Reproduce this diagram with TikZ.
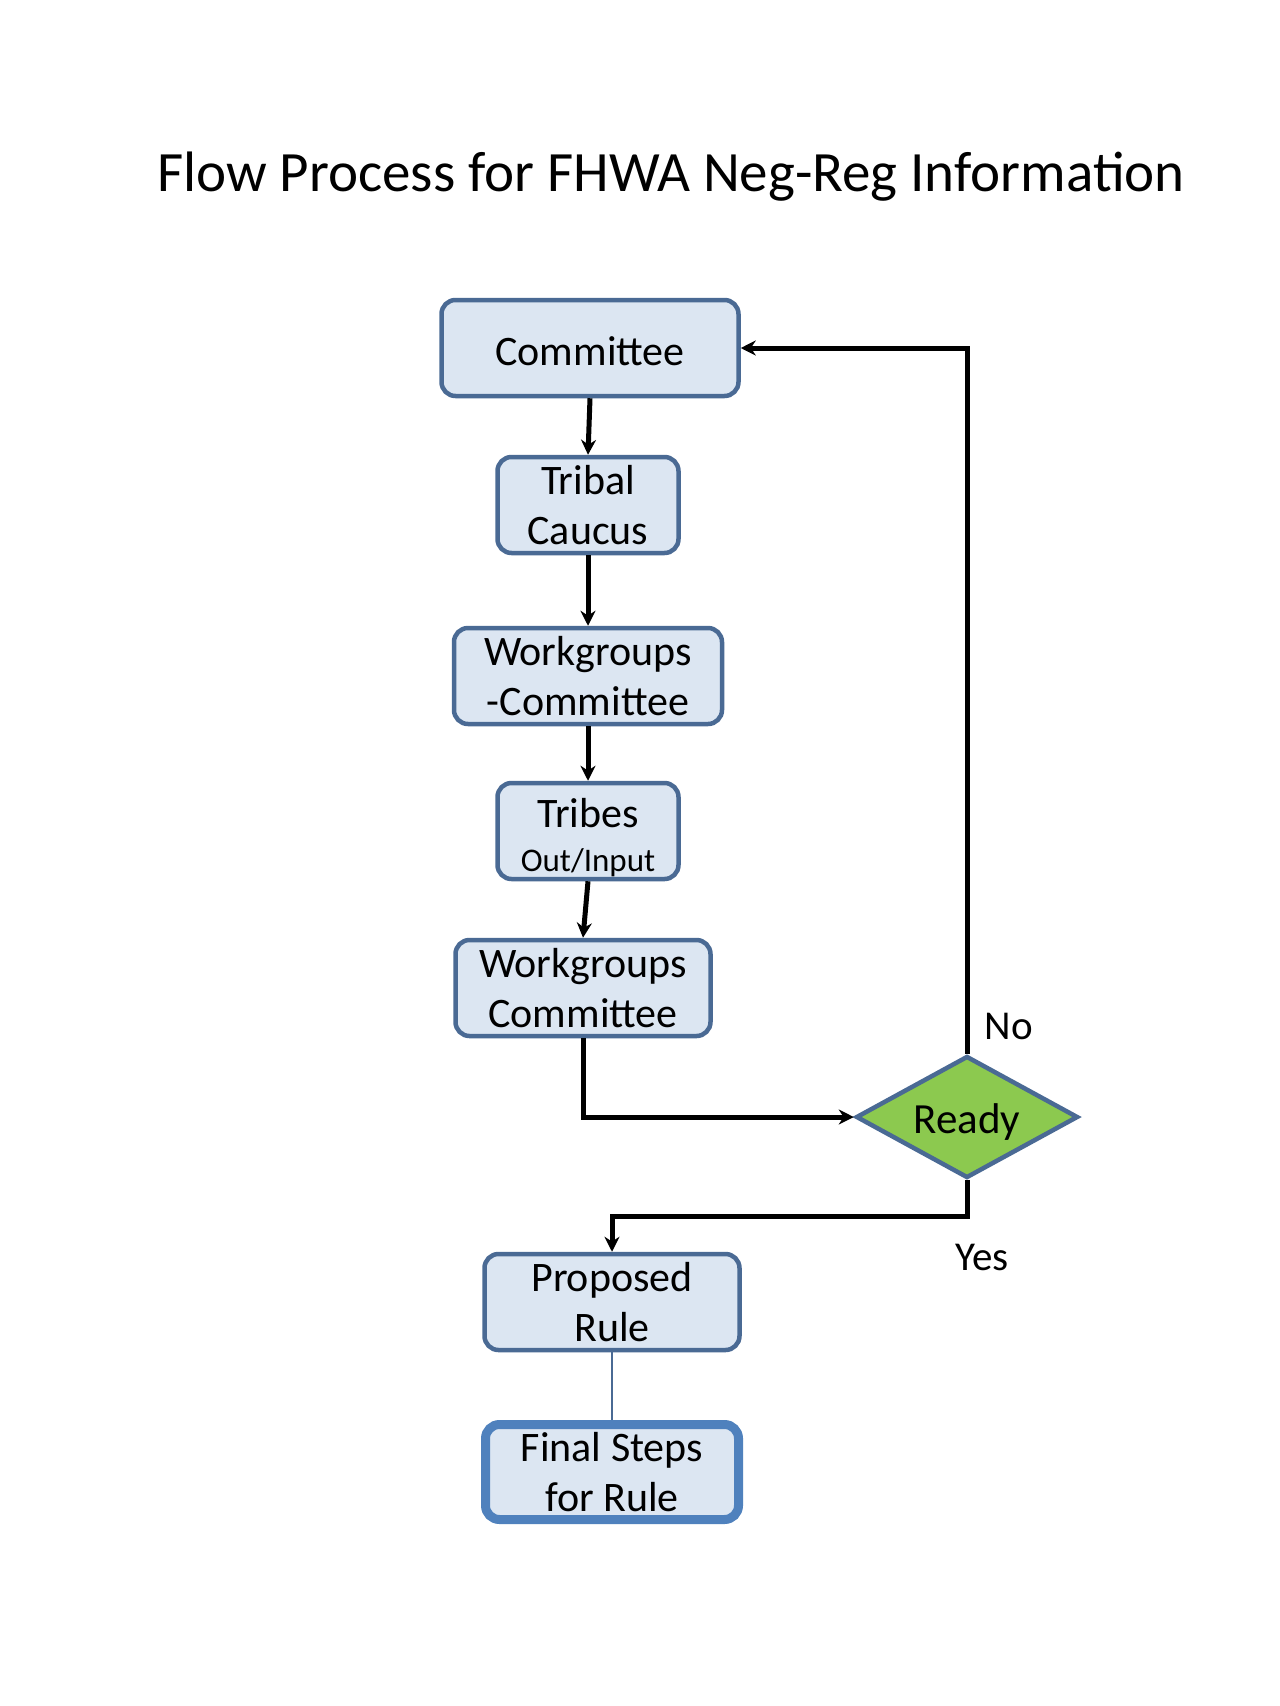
\documentclass[tikz,border=0pt]{standalone}
\usepackage{fontspec}
\setmainfont{Carlito}
\usetikzlibrary{shapes.geometric,arrows.meta}
\definecolor{boxfill}{HTML}{DCE6F2}
\definecolor{boxline}{HTML}{4A6A94}
\definecolor{finline}{HTML}{4F81BD}
\definecolor{readyfill}{HTML}{8CC94F}
\newcommand{\lowerby}[2]{\raisebox{-#1}[\height][\depth]{#2}}
\begin{document}
\begin{tikzpicture}[x=1pt,y=-1pt,
 proc/.style={draw=boxline, line width=4.5pt, fill=boxfill, rounded corners=14pt, minimum height=96pt, inner sep=0pt, align=center, font=\fontsize{42}{50}\selectfont},
 conn/.style={line width=5pt, -{Stealth[length=15pt,width=15pt]}},
 lbl/.style={font=\fontsize{41}{48}\selectfont}
]
\useasboundingbox[fill=white] (0,0) rectangle (1280,1706);
\node[font=\fontsize{57}{66}\selectfont] (title) at (671,177) {Flow Process for FHWA Neg-Reg Information};
\node[proc, minimum width=297pt] (committee) at (590,348) {\lowerby{3pt}{Committee}};
\node[proc, minimum width=181pt] (tribal) at (588,505) {Tribal\\Caucus};
\node[proc, minimum width=268pt] (wc1) at (588,676) {Workgroups\\-Committee};
\node[proc, minimum width=181pt] (tribes) at (588,831) {\lowerby{7pt}{Tribes}\\[-6pt]\lowerby{7pt}{\fontsize{33}{38}\selectfont Out/Input}};
\node[diamond, draw=boxline, line width=4.5pt, fill=readyfill, minimum width=222pt, minimum height=122pt, aspect=1.8, inner sep=0pt, font=\fontsize{43}{50}\selectfont] (ready) at (967,1117) {\lowerby{5pt}{Ready}};
\node[proc, minimum width=255pt] (wc2) at (583,988) {Workgroups\\Committee};
\node[proc, minimum width=255pt] (proposed) at (612,1302) {Proposed\\Rule};
\node[proc, draw=finline, line width=9pt, minimum width=253pt, minimum height=95pt] (final) at (612,1472) {Final Steps\\for Rule};
\node[lbl] (no) at (1009,1026) {No};
\node[lbl] (yes) at (982,1257) {Yes};
\draw[conn] (committee.south) -- (tribal.north);
\draw[conn] (tribal.south) -- (wc1.north);
\draw[conn] (wc1.south) -- (tribes.north);
\draw[conn] (tribes.south) -- (wc2.north);
\draw[conn] (wc2.south) |- (ready.west);
\draw[conn] (ready.north) |- (committee.east);
\draw[conn] (ready.south) -- ++(0,36) -| (proposed.north);
\draw[boxline, line width=1.2pt] (proposed.south) -- (final.north);
\end{tikzpicture}
\end{document}
